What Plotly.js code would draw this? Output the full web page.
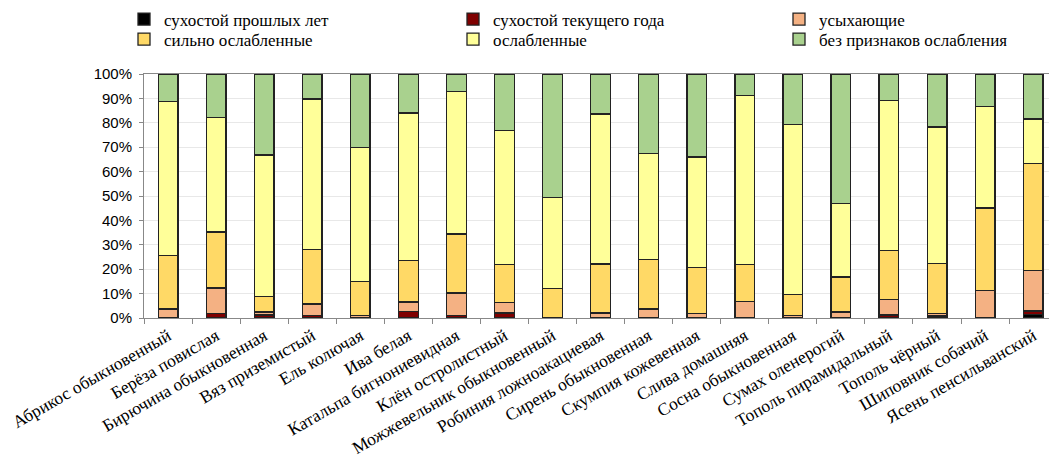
<!DOCTYPE html>
<html><head><meta charset="utf-8">
<script src="https://cdn.plot.ly/plotly-3.0.1.min.js"></script>
<style>html,body{margin:0;padding:0;background:#fff;overflow:hidden}</style>
</head><body><div id="chart" style="width:1049px;height:461px"></div>
<script>
const categories = ["Абрикос обыкновенный","Берёза повислая","Бирючина обыкновенная","Вяз приземистый","Ель колючая","Ива белая","Катальпа бигнониевидная","Клён остролистный","Можжевельник обыкновенный","Робиния ложноакациевая","Сирень обыкновенная","Скумпия кожевенная","Слива домашняя","Сосна обыкновенная","Сумах оленерогий","Тополь пирамидальный","Тополь чёрный","Шиповник собачий","Ясень пенсильванский"];
const seriesNames = ["сухостой прошлых лет","сухостой текущего года","усыхающие","сильно ослабленные","ослабленные","без признаков ослабления"];
const pastDead    = [0,0,0,0,0,0,0,0,0,0,0,0,0,0,0,0,0,0,1.5];
const currentDead = [0,1.8,1.2,1.0,0,2.6,1.0,2.1,0,0,0.3,0,0,0,0,1.2,0.8,0,1.4];
const drying      = [3.7,10.5,1.3,4.7,1.1,4.0,9.2,4.2,0,2.0,3.4,1.8,6.9,1.0,2.5,6.3,1.0,11.3,16.6];
const strongWeak  = [22.0,22.9,6.2,22.3,13.8,17.0,24.2,15.6,12.0,20.1,20.2,18.8,15.0,8.6,14.3,20.1,20.6,33.8,43.9];
const weakened    = [63.1,47.0,58.1,61.8,55.1,60.4,58.5,55.0,37.5,61.5,43.6,45.4,69.4,69.6,30.2,61.6,55.9,41.6,18.2];
const healthy     = [11.2,17.8,33.2,10.2,30.0,16.0,7.1,23.1,50.5,16.4,32.5,34.0,8.7,20.8,53.0,10.8,21.7,13.3,18.4];
const yTicks = [0,10,20,30,40,50,60,70,80,90,100];
const yTickText = yTicks.map(v => v + "%");

const colors = ["#000000","#7f0000","#f4b183","#ffd966","#ffff99","#a9d18e"];
const allSeries = [pastDead,currentDead,drying,strongWeak,weakened,healthy];
const legendIds = ["legend","legend2","legend3","legend4","legend5","legend6"];

const traces = allSeries.map((vals,i)=>({
  type:"bar", x:categories, y:vals, name:seriesNames[i],
  marker:{color:colors[i], line:{color:"#222", width:1.3}},
  legend:legendIds[i], hoverinfo:"skip"
}));

const serif = "'Liberation Serif', 'Times New Roman', serif";
const legFont = {family:serif, size:17, color:"#000"};
const legX = [124, 453, 779];
const legY = [19.5, 39.5];

const layout = {
  width:1049, height:461,
  margin:{l:144, r:0, t:74, b:143, autoexpand:false},
  barmode:"stack", bargap:0.59,
  paper_bgcolor:"#fff", plot_bgcolor:"#fff",
  showlegend:true,
  xaxis:{type:"category", range:[-0.5,18.33], tickangle:-30, automargin:false,
    tickfont:{family:serif, size:17.5, color:"#000"},
    showline:true, mirror:true, linecolor:"#888", linewidth:1,
    ticks:"outside", tickson:"boundaries", ticklen:5, tickcolor:"#888", showgrid:false},
  yaxis:{range:[0,100], tickvals:yTicks, ticktext:yTickText, automargin:false, ticklabelstandoff:4,
    tickfont:{family:"'Liberation Sans', Arial, sans-serif", size:15, color:"#000"},
    showline:true, linecolor:"#888", linewidth:1, ticks:"outside", ticklen:4, tickcolor:"#888",
    showgrid:true, gridcolor:"#e8e8e8", gridwidth:1, zeroline:false, fixedrange:true}
};
legendIds.forEach((id,i)=>{
  layout[id] = {orientation:"v", font:legFont, xref:"container", yref:"container",
    xanchor:"left", yanchor:"middle", x:legX[i%3]/1049, y:1-legY[Math.floor(i/3)]/461,
    bgcolor:"rgba(0,0,0,0)", itemwidth:30};
});
Plotly.newPlot("chart", traces, layout, {displayModeBar:false, staticPlot:true});
</script></body></html>
